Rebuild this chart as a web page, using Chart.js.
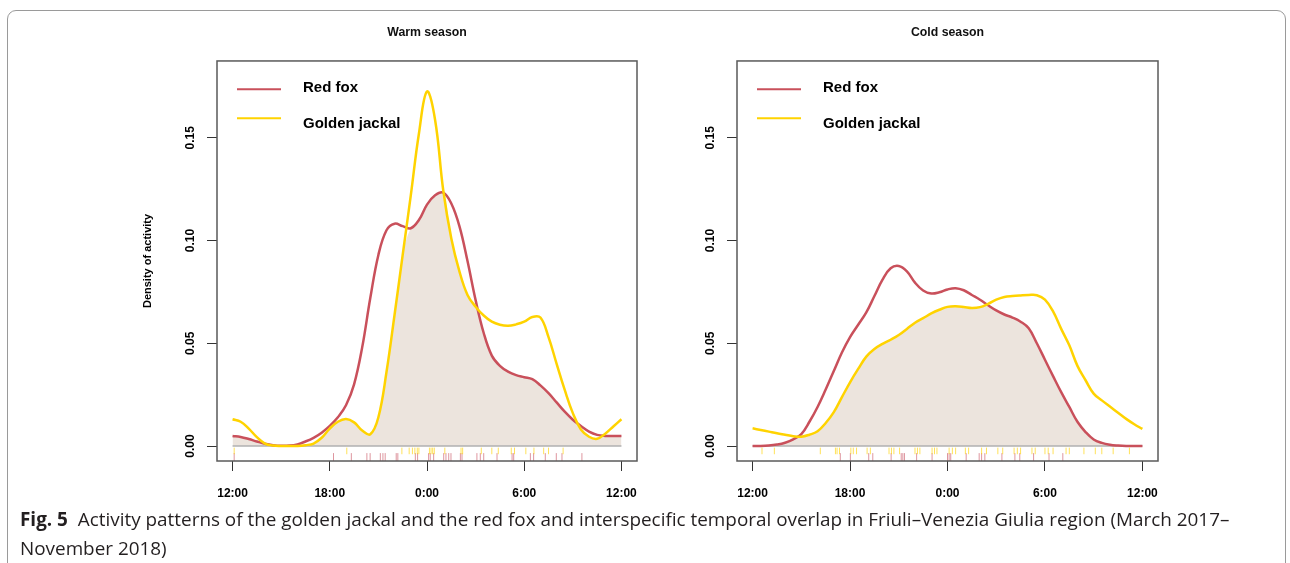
<!DOCTYPE html>
<html>
<head>
<meta charset="utf-8">
<script src="https://cdn.jsdelivr.net/npm/chart.js@4.4.1/dist/chart.umd.min.js"></script>
<style>
  body { margin: 0; background: #fff; width: 1290px; height: 563px; overflow: hidden; position: relative; }
  #frame { position: absolute; left: 7px; top: 10px; width: 1277px; height: 600px; border: 1px solid #9a9a9a; border-radius: 9px; }
  #warm { position: absolute; left: 0; top: 0; }
  #cold { position: absolute; left: 660px; top: 0; }
  #caption { position: absolute; left: 20px; top: 505px; font-family: 'Open Sans', 'Noto Sans', sans-serif; font-size: 18.9px; line-height: 29px; color: #231f20; white-space: nowrap; }
  #caption b { font-weight: 700; }
</style>
</head>
<body>
<div id="frame"></div>
<canvas id="warm" width="660" height="510"></canvas>
<canvas id="cold" width="530" height="510"></canvas>
<div id="caption"><b>Fig. 5</b>&nbsp; Activity patterns of the golden jackal and the red fox and interspecific temporal overlap in Friuli–Venezia Giulia region (March 2017–<br>November 2018)</div>

<script>
// --- data (hours since 12:00) ---
const hours = [0, 0.5, 1, 1.5, 2, 2.5, 3, 3.5, 4, 4.5, 5, 5.5, 6, 6.5, 7, 7.5, 8, 8.5, 9, 9.5, 10, 10.5, 11, 11.5,
               12, 12.5, 13, 13.5, 14, 14.5, 15, 15.5, 16, 16.5, 17, 17.5, 18, 18.5, 19, 19.5, 20, 20.5, 21, 21.5, 22, 22.5, 23, 23.5, 24];

const foxWarm = [0.0049, 0.0044, 0.0034, 0.0022, 0.0011, 0.0004, 0.0001, 0.0002, 0.0008, 0.0022, 0.0040, 0.0065,
                 0.0098, 0.0140, 0.0198, 0.0300, 0.0480, 0.0720, 0.0930, 0.1050, 0.1082, 0.1070, 0.1060, 0.1100,
                 0.1175, 0.1220, 0.1233, 0.1180, 0.1070, 0.0900, 0.0710, 0.0550, 0.0440, 0.0390, 0.0362, 0.0345,
                 0.0335, 0.0325, 0.0295, 0.0257, 0.0212, 0.0167, 0.0128, 0.0097, 0.0070, 0.0054, 0.0049, 0.0049, 0.0049];

const jackalWarm = [0.0130, 0.0118, 0.0085, 0.0043, 0.0012, 0.0002, 0, 0, 0, 0.0004, 0.0012, 0.0040,
                    0.0085, 0.0118, 0.0131, 0.0115, 0.0075, 0.0057, 0.0140, 0.0360, 0.0640, 0.0930, 0.1220, 0.1520,
                    0.1725, 0.1587, 0.1246, 0.1010, 0.0850, 0.0735, 0.0678, 0.0635, 0.0605, 0.0590, 0.0585, 0.0592,
                    0.0605, 0.0628, 0.0625, 0.0530, 0.0400, 0.0273, 0.0160, 0.0080, 0.0045, 0.0035, 0.0060, 0.0095, 0.0130];

const foxCold = [0, 0, 0.0002, 0.0007, 0.0016, 0.0032, 0.0058, 0.0118, 0.0190, 0.0275, 0.0365, 0.0455,
                 0.0530, 0.0590, 0.0650, 0.0730, 0.0810, 0.0865, 0.0876, 0.0850, 0.0795, 0.0757, 0.0742, 0.0748,
                 0.0762, 0.0768, 0.0758, 0.0735, 0.0712, 0.0685, 0.0660, 0.0640, 0.0625, 0.0605, 0.0573, 0.0500,
                 0.0420, 0.0340, 0.0262, 0.0190, 0.0118, 0.0068, 0.0032, 0.0015, 0.0006, 0.0002, 0, 0, 0];

const jackalCold = [0.0086, 0.0078, 0.0070, 0.0062, 0.0055, 0.0048, 0.0045, 0.0055, 0.0072, 0.0112, 0.0165, 0.0238,
                    0.0310, 0.0375, 0.0435, 0.0472, 0.0497, 0.0517, 0.0540, 0.0570, 0.0600, 0.0622, 0.0645, 0.0663,
                    0.0677, 0.0680, 0.0677, 0.0672, 0.0676, 0.0692, 0.0712, 0.0725, 0.0730, 0.0733, 0.0735, 0.0734,
                    0.0712, 0.0655, 0.0570, 0.0490, 0.0390, 0.0320, 0.0255, 0.0222, 0.0192, 0.0162, 0.0132, 0.0106, 0.0083];

// rug: observation times
const foxWarmRug = [0.1, 6.23, 7.33, 8.29, 8.49, 9.12, 9.28, 9.42, 10.1, 10.2, 11.28, 11.42, 12.1, 12.2, 12.41,
                    13.03, 13.17, 13.34, 13.48, 14.06, 14.16, 15.08, 15.29, 15.5, 16.32, 17.25, 17.35, 18.38, 18.58,
                    19.3, 19.98, 20.33, 21.56];
const jackalWarmRug = [0.1, 7.05, 10.45, 10.9, 11.1, 11.25, 11.4, 11.5, 12.15, 12.25, 12.35, 12.45, 13.1, 14.1, 14.2,
                       15.35, 16.0, 16.4, 17.2, 17.4, 18.1, 18.6, 19.2, 19.5, 20.4];
const foxColdRug = [5.4, 6.02, 7.15, 7.4, 8.53, 9.15, 9.25, 9.35, 10.1, 11.05, 12.0, 12.1, 12.2, 13.15, 13.95, 14.1,
                    14.3, 15.35, 16.15, 16.45, 17.3, 18.25, 19.1];
const jackalColdRug = [0.58, 1.34, 4.17, 5.1, 5.2, 5.35, 6.05, 6.2, 6.4, 7.05, 7.25, 8.4, 8.55, 8.7, 9.05, 10.0, 10.15,
                       10.3, 11.05, 11.2, 11.35, 12.1, 12.3, 12.5, 13.1, 13.3, 14.1, 14.4, 15.1, 15.4, 16.1, 16.3, 16.5,
                       17.2, 17.4, 18.0, 18.2, 18.5, 19.3, 19.5, 20.4, 21.1, 21.5, 22.2, 23.2];

const hourTicks = [0, 6, 12, 18, 24];
const hourLabels = ['12:00', '18:00', '0:00', '6:00', '12:00'];
const densityTicks = [0, 0.05, 0.10, 0.15];
const densityLabels = ['0.00', '0.05', '0.10', '0.15'];
const speciesNames = ['Red fox', 'Golden jackal'];

const FOX_COL = '#c9505b';
const JACKAL_COL = '#ffd300';
const FONT = "'Liberation Sans', Arial, sans-serif";

// box around plot + legend
const boxPlugin = {
  id: 'rbox',
  afterDraw(chart) {
    const { ctx, chartArea: a } = chart;
    ctx.save();
    ctx.strokeStyle = '#5a5a5a';
    ctx.lineWidth = 1.5;
    ctx.strokeRect(a.left, a.top, a.right - a.left, a.bottom - a.top);

    // legend
    const rows = [
      { name: speciesNames[0], col: FOX_COL, ly: 28.3, ty: 25.7 },
      { name: speciesNames[1], col: JACKAL_COL, ly: 57.3, ty: 61.7 }
    ];
    ctx.font = 'bold 15px ' + FONT;
    ctx.textBaseline = 'middle';
    ctx.textAlign = 'left';
    rows.forEach(r => {
      ctx.strokeStyle = r.col;
      ctx.lineWidth = 2;
      ctx.beginPath();
      ctx.moveTo(a.left + 20, a.top + r.ly);
      ctx.lineTo(a.left + 64, a.top + r.ly);
      ctx.stroke();
      ctx.fillStyle = '#000';
      ctx.fillText(r.name, a.left + 86, a.top + r.ty + 1);
    });
    ctx.restore();
  }
};

function makeChart(id, title, fox, jackal, foxRug, jackalRug, showYTitle, padLeft, yWidth, padRight) {
  const overlap = hours.map((h, i) => ({ x: h, y: Math.min(fox[i], jackal[i]) }));
  return new Chart(document.getElementById(id), {
    type: 'line',
    data: {
      datasets: [
        { label: speciesNames[1], data: hours.map((h, i) => ({ x: h, y: jackal[i] })), borderColor: JACKAL_COL,
          borderWidth: 2.5, pointRadius: 0, tension: 0.4, fill: false, order: 0 },
        { label: speciesNames[0], data: hours.map((h, i) => ({ x: h, y: fox[i] })), borderColor: FOX_COL,
          borderWidth: 2.5, pointRadius: 0, tension: 0.4, fill: false, order: 1 },
        { label: 'jrug', data: jackalRug.map(h => ({ x: h, y: -0.0024 })), showLine: false, pointStyle: 'line',
          rotation: 90, pointRadius: 3.3, pointBorderWidth: 1, pointBorderColor: 'rgba(255,210,0,0.65)', order: 0 },
        { label: 'frug', data: foxRug.map(h => ({ x: h, y: -0.0054 })), showLine: false, pointStyle: 'line',
          rotation: 90, pointRadius: 4, pointBorderWidth: 1, pointBorderColor: 'rgba(200,80,95,0.6)', order: 0 },
        { label: 'base', data: [{ x: hourTicks[0], y: 0 }, { x: hourTicks[hourTicks.length - 1], y: 0 }],
          borderColor: '#b0b0b0', borderWidth: 1.5, pointRadius: 0, fill: false, order: 2 },
        { label: 'overlap', data: overlap, borderWidth: 0, borderColor: 'rgba(0,0,0,0)', pointRadius: 0,
          tension: 0.4, fill: 'origin', backgroundColor: '#ece4dd', order: 3 }
      ]
    },
    options: {
      responsive: false,
      animation: false,
      events: [],
      layout: { padding: { left: padLeft, right: padRight, top: 0, bottom: 0 } },
      plugins: {
        legend: { display: false },
        tooltip: { enabled: false },
        title: { display: true, text: title, fullSize: false, color: '#111',
                 font: { family: FONT, size: 12.3, weight: 'bold' }, padding: { top: 24.9, bottom: 21.3 } }
      },
      scales: {
        x: {
          type: 'linear', min: -0.96, max: 24.96,
          afterBuildTicks: s => { s.ticks = hourTicks.map(v => ({ value: v })); },
          afterFit: s => { s.height = 49; },
          ticks: { callback: v => hourLabels[hourTicks.indexOf(v)], color: '#000', padding: 15,
                   font: { family: FONT, size: 12, weight: 'bold' }, maxRotation: 0, autoSkip: false },
          grid: { drawOnChartArea: false, drawTicks: true, tickLength: 10, color: '#333', lineWidth: 1 },
          border: { display: false }
        },
        y: {
          type: 'linear', min: -0.0073, max: 0.1874,
          afterBuildTicks: s => { s.ticks = densityTicks.map(v => ({ value: v })); },
          afterFit: s => { s.width = yWidth; },
          ticks: { callback: v => densityLabels[densityTicks.indexOf(v)], color: '#000', padding: 5,
                   minRotation: 90, maxRotation: 90, crossAlign: 'center', autoSkip: false,
                   font: { family: FONT, size: 12, weight: 'bold' } },
          grid: { drawOnChartArea: false, drawTicks: true, tickLength: 10, color: '#333', lineWidth: 1 },
          border: { display: false },
          title: { display: showYTitle, text: 'Density of activity', color: '#000',
                   font: { family: FONT, size: 11, weight: 'bold' }, padding: { top: 11.4, bottom: 0 } }
        }
      }
    },
    plugins: [boxPlugin]
  });
}

makeChart('warm', 'Warm season', foxWarm, jackalWarm, foxWarmRug, jackalWarmRug, true, 130, 87, 23);
makeChart('cold', 'Cold season', foxCold, jackalCold, foxColdRug, jackalColdRug, false, 0, 77, 32);
</script>
</body>
</html>
